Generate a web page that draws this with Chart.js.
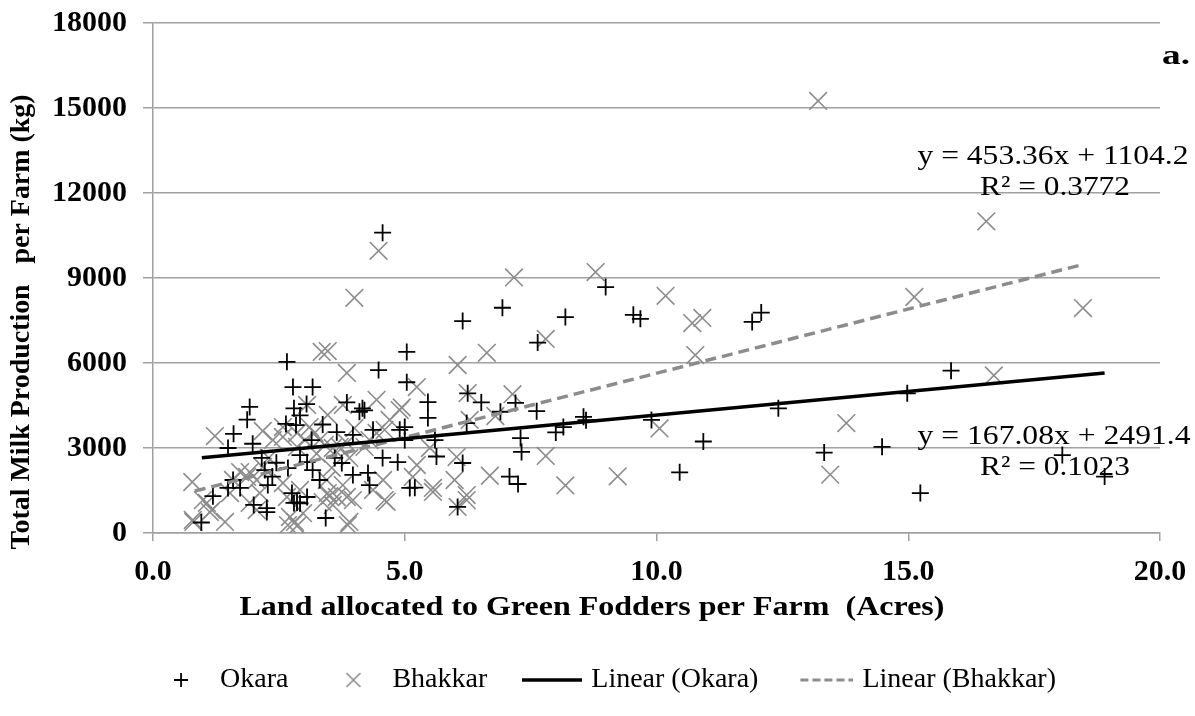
<!DOCTYPE html>
<html>
<head>
<meta charset="utf-8">
<script src="https://cdn.jsdelivr.net/npm/chart.js@4.4.0/dist/chart.umd.min.js"></script>
<style>
  html, body { margin: 0; padding: 0; background: #fff; }
</style>
</head>
<body>
<canvas id="chart" width="1195" height="716"></canvas>
<script>
const FONT = "'Liberation Serif', 'Times New Roman', serif"

// Okara farms (+)
const okaraX = [4.56, 6.94, 6.15, 8.99, 8.19, 9.54, 9.68, 11.9, 12.08, 7.64, 2.66, 5.04, 4.48, 2.78, 3.17, 5.04, 15.85, 14.98, 1.92, 1.87,
  2.8, 2.92, 3.05, 2.64, 2.84, 3.37, 3.85, 4.1, 4.16, 4.2, 5.46, 5.46, 6.52, 7.2, 6.9, 7.62, 6.23, 8.55, 8.6, 12.42,
  1.6, 1.49, 1.98, 3.65, 4.37, 4.9, 5.0, 3.97, 3.15, 5.0, 5.6, 7.3, 8.0, 8.15, 9.9, 10.93, 2.16, 2.45, 2.92, 3.06,
  3.61, 3.75, 4.56, 4.86, 5.63, 6.15, 7.32, 13.33, 14.48, 18.06, 2.22, 2.37, 2.68, 3.17, 3.31, 3.97, 4.27, 4.3, 5.1, 5.2,
  6.05, 7.08, 7.25, 10.46, 1.19, 1.49, 1.73, 1.59, 2.28, 2.76, 3.06, 2.8, 2.86, 2.92, 2.26, 2.0, 2.26, 3.43, 0.96, 15.24,
  18.9, 6.25]
const okaraY = [10600, 7950, 7480, 8680, 7620, 7700, 7560, 7450, 7780, 6720, 6040, 6390, 5750, 5150, 5150, 5320, 5730, 4930, 4450, 4000,
  4400, 4150, 4550, 3850, 3810, 3830, 4610, 4280, 4400, 4330, 4620, 4060, 4610, 4590, 4280, 4300, 3880, 4100, 3980, 4400,
  3500, 3000, 3150, 3560, 3640, 3640, 3740, 3460, 3280, 3280, 3280, 3350, 3550, 3740, 3990, 3230, 2650, 2480, 2750, 2500,
  2650, 2470, 2650, 2500, 2700, 2470, 2860, 2840, 3040, 2750, 2220, 1990, 2290, 2220, 1870, 2050, 2120, 1690, 1590, 1600,
  920, 1990, 1730, 2140, 1300, 1590, 1590, 1870, 1690, 1410, 1270, 1060, 1080, 1050, 880, 990, 740, 530, 370, 1410,
  1990, 4930]

// Bhakkar farms (x)
const bhakkarX = [13.21, 16.55, 4.48, 4.0, 7.17, 8.79, 10.18, 15.12, 18.47, 10.71, 10.91, 7.8, 6.63, 10.77, 3.35, 3.47, 6.05, 3.85, 5.24, 16.7,
  7.14, 6.25, 6.8, 6.29, 10.06, 13.77, 7.8, 8.19, 9.23, 13.45, 6.69, 4.44, 4.94, 3.06, 3.47, 4.7, 4.0, 2.58, 2.18, 1.23,
  0.78, 0.79, 0.99, 1.07, 1.17, 1.43, 1.73, 1.92, 2.06, 1.59, 1.92, 2.82, 2.86, 2.68, 3.87, 3.5, 4.64, 4.57, 5.56, 5.56,
  5.99, 6.23, 6.05, 5.24, 6.03, 2.86, 3.21, 3.41, 3.71, 2.58, 2.66, 2.92, 3.45, 3.47, 3.65, 3.77, 3.37, 3.57, 2.98, 2.72,
  2.12, 2.06, 3.85, 3.9, 4.2, 4.44, 5.16, 4.37, 3.85, 3.97, 3.9, 3.77, 1.87, 1.53, 2.18, 2.38, 2.58, 3.11, 3.31, 1.13,
  0.8, 3.02, 3.57, 4.3, 4.6, 4.9, 5.5, 4.6, 6.23, 2.3, 2.86, 3.25, 3.55]
const bhakkarY = [15250, 11000, 9960, 8300, 9020, 9210, 8370, 8330, 7940, 7410, 7590, 6850, 6360, 6280, 6390, 6420, 5930, 5650, 5150, 5560,
  4900, 4940, 4130, 3990, 3690, 3880, 2720, 1680, 2000, 2060, 2020, 4700, 4430, 4520, 4165, 3990, 3700, 3740, 3600, 3420,
  1800, 460, 1160, 1060, 810, 390, 2150, 2150, 1870, 1870, 1060, 390, 250, 280, 280, 1300, 1100, 1870, 1450, 1590,
  1870, 1340, 920, 2400, 2680, 3530, 3530, 3110, 3040, 1765, 1270, 1520, 1870, 1410, 1270, 1690, 1090, 990, 700, 565,
  1410, 810, 3180, 2650, 3040, 3530, 1980, 1520, 1270, 1160, 390, 4520, 1980, 1410, 2330, 3280, 3390, 3740, 3280, 740,
  390, 3280, 3000, 3280, 3640, 4340, 3000, 1160, 1160, 2650, 3040, 2800, 2300]

// linear trendlines: [slope, intercept] and x range of each line
const okaraTrend = [167.08, 2491.4]
const bhakkarTrend = [453.36, 1104.2]
const okaraTrendX = [0.97, 18.9]
const bhakkarTrendX = [0.83, 18.4]

const equationLabels = ['y = 453.36x + 1104.2', 'R² = 0.3772', 'y = 167.08x + 2491.4', 'R² = 0.1023']
const seriesNames = ['Okara', 'Bhakkar', 'Linear (Okara)', 'Linear (Bhakkar)']

const toPoints = (xs, ys) => xs.map((x, i) => ({ x: x, y: ys[i] }))
const trendPoints = (coef, xs) => xs.map(x => ({ x: x, y: coef[0] * x + coef[1] }))

// small canvases used as legend symbols
function legendIcon(kind) {
  const c = document.createElement('canvas')
  c.width = 60
  c.height = 20
  const g = c.getContext('2d')
  g.beginPath()
  if (kind === 'plus') {
    g.strokeStyle = '#000'
    g.lineWidth = 1.8
    g.moveTo(23, 10); g.lineTo(37, 10)
    g.moveTo(30, 3); g.lineTo(30, 17)
  } else if (kind === 'x') {
    g.strokeStyle = '#8c8c8c'
    g.lineWidth = 1.6
    g.moveTo(23, 3); g.lineTo(37, 17)
    g.moveTo(37, 3); g.lineTo(23, 17)
  } else if (kind === 'solid') {
    g.strokeStyle = '#000'
    g.lineWidth = 3.5
    g.moveTo(0, 10); g.lineTo(60, 10)
  } else {
    g.strokeStyle = '#8c8c8c'
    g.lineWidth = 3
    g.setLineDash([8, 4])
    g.moveTo(7, 10); g.lineTo(60, 10)
  }
  g.stroke()
  return c
}
const legendIcons = [legendIcon('plus'), legendIcon('x'), legendIcon('solid'), legendIcon('dash')]

// draw text fitted to a given width (reference text is wide)
function drawFitText(ctx, text, cx, cy, width, font, rotate) {
  ctx.save()
  ctx.font = font
  ctx.fillStyle = '#000'
  ctx.textAlign = 'center'
  ctx.textBaseline = 'middle'
  const w = ctx.measureText(text).width
  ctx.translate(cx, cy)
  if (rotate) ctx.rotate(-Math.PI / 2)
  ctx.scale(width / w, 1)
  ctx.fillText(text, 0, 0)
  ctx.restore()
}

const textPlugin = {
  id: 'textPlugin',
  afterLayout(chart) {
    // move the legend row a bit right, as in the original
    chart.legend.left += 26
    chart.legend.right += 26
  },
  afterDraw(chart) {
    const ctx = chart.ctx
    const bold = 'bold 28px ' + FONT
    const norm = '28px ' + FONT
    drawFitText(ctx, 'Total Milk Production   per Farm (kg)', 22, 322, 455, bold, true)
    drawFitText(ctx, 'Land allocated to Green Fodders per Farm  (Acres)', 592, 608, 705, bold, false)
    drawFitText(ctx, 'a.', 1176, 57, 28, 'bold 28px ' + FONT, false)
    drawFitText(ctx, equationLabels[0], 1053, 157, 271, norm, false)
    drawFitText(ctx, equationLabels[1], 1055, 188, 150, norm, false)
    drawFitText(ctx, equationLabels[2], 1054, 437, 273, norm, false)
    drawFitText(ctx, equationLabels[3], 1055, 468, 150, norm, false)
  },
}

const chart = new Chart(document.getElementById('chart'), {
  type: 'scatter',
  data: {
    datasets: [
      {
        label: seriesNames[0],
        data: toPoints(okaraX, okaraY),
        pointStyle: 'cross',
        pointRadius: 8.5,
        pointHoverRadius: 8.5,
        borderColor: '#000',
        backgroundColor: '#000',
        borderWidth: 1.8,
        order: 1,
      },
      {
        label: seriesNames[1],
        data: toPoints(bhakkarX, bhakkarY),
        pointStyle: 'crossRot',
        pointRadius: 12.5,
        pointHoverRadius: 12.5,
        borderColor: '#8c8c8c',
        backgroundColor: '#8c8c8c',
        borderWidth: 1.6,
        order: 2,
      },
      {
        label: seriesNames[2],
        data: trendPoints(okaraTrend, okaraTrendX),
        showLine: true,
        pointRadius: 0,
        borderColor: '#000',
        borderWidth: 3.5,
        order: 0,
      },
      {
        label: seriesNames[3],
        data: trendPoints(bhakkarTrend, bhakkarTrendX),
        showLine: true,
        pointRadius: 0,
        borderColor: '#8c8c8c',
        borderWidth: 3.5,
        borderDash: [11, 6],
        order: 0,
      },
    ],
  },
  options: {
    responsive: false,
    animation: false,
    devicePixelRatio: 1,
    layout: { padding: { top: 23, right: 35, bottom: 12, left: 0 } },
    plugins: {
      tooltip: { enabled: false },
      legend: {
        position: 'bottom',
        labels: {
          usePointStyle: true,
          pointStyleWidth: 50,
          boxHeight: 14,
          padding: 40,
          color: '#000',
          font: { family: FONT, size: 28 },
          sort: (a, b) => a.datasetIndex - b.datasetIndex,
          generateLabels(chart) {
            const items = Chart.defaults.plugins.legend.labels.generateLabels(chart)
            items.forEach(item => {
              item.pointStyle = legendIcons[item.datasetIndex]
              item.lineWidth = 0
            })
            return items
          },
        },
      },
    },
    scales: {
      x: {
        type: 'linear',
        min: 0,
        max: 20,
        afterFit(scale) {
          scale.height = 93
          scale.paddingLeft = 0
          scale.paddingRight = 0
        },
        grid: { drawOnChartArea: false, drawTicks: true, tickLength: 8, color: '#a0a0a0', lineWidth: 1.5 },
        border: { color: '#a0a0a0', width: 1.5 },
        ticks: {
          stepSize: 5,
          padding: 13,
          color: '#000',
          font: { family: FONT, size: 30, weight: 'bold' },
          callback: v => v.toFixed(1),
        },
      },
      y: {
        min: 0,
        max: 18000,
        afterFit(scale) {
          scale.width = 153
          scale.paddingTop = 0
          scale.paddingBottom = 0
        },
        grid: { color: '#a0a0a0', lineWidth: 1.5, tickLength: 10 },
        border: { color: '#a0a0a0', width: 1.5 },
        ticks: {
          stepSize: 3000,
          padding: 16,
          color: '#000',
          font: { family: FONT, size: 30, weight: 'bold' },
          callback: v => String(v),
        },
      },
    },
  },
  plugins: [textPlugin],
})
</script>
</body>
</html>
